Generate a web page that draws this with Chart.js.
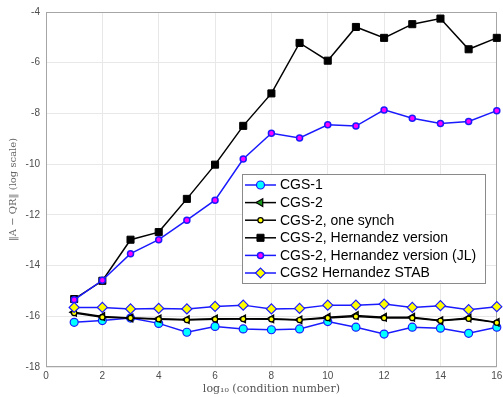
<!DOCTYPE html>
<html>
<head>
<meta charset="utf-8">
<script src="https://cdn.jsdelivr.net/npm/chart.js@4.4.1/dist/chart.umd.min.js"></script>
<style>
  html, body { margin: 0; padding: 0; background: #ffffff; }
  #wrap { width: 503px; height: 397px; position: relative; }
</style>
</head>
<body>
<div id="wrap"><canvas id="c" width="503" height="397"></canvas></div>
<script>
// ---- data ----
const xValues = [1, 2, 3, 4, 5, 6, 7, 8, 9, 10, 11, 12, 13, 14, 15, 16];
const cgs1 = [-16.24, -16.17, -16.07, -16.28, -16.63, -16.40, -16.50, -16.53, -16.50, -16.21, -16.43, -16.70, -16.43, -16.47, -16.67, -16.43];
const cgs2 = [-15.84, -16.01, -16.07, -16.10, -16.13, -16.10, -16.10, -16.10, -16.14, -16.04, -15.97, -16.04, -16.04, -16.17, -16.07, -16.24];
const cgs2OneSynch = [-15.87, -16.04, -16.07, -16.12, -16.15, -16.12, -16.11, -16.12, -16.15, -16.07, -16.01, -16.07, -16.07, -16.18, -16.10, -16.25];
const cgs2Hernandez = [-15.32, -14.60, -12.98, -12.68, -11.37, -10.02, -8.49, -7.21, -5.22, -5.92, -4.59, -5.02, -4.48, -4.26, -5.47, -5.02];
const cgs2HernandezJL = [-15.35, -14.58, -13.53, -12.98, -12.21, -11.42, -9.80, -8.78, -8.97, -8.45, -8.50, -7.86, -8.19, -8.40, -8.32, -7.89];
const cgs2HernandezStab = [-15.65, -15.65, -15.71, -15.69, -15.71, -15.61, -15.56, -15.71, -15.69, -15.56, -15.56, -15.52, -15.65, -15.58, -15.74, -15.62];
const seriesLabels = ["CGS-1", "CGS-2", "CGS-2, one synch", "CGS-2, Hernandez version", "CGS-2, Hernandez version (JL)", "CGS2 Hernandez STAB"];
const xTickValues = [0, 2, 4, 6, 8, 10, 12, 14, 16];
const yTickValues = [-18, -16, -14, -12, -10, -8, -6, -4];
const xTitle = "log\u2081\u2080 (condition number)";
const yTitle = "\u2016A \u2212 QR\u2016 (log scale)";

const BLUE = '#1a1aff';
const styles = [
  { line: BLUE, fill: '#00ffff', border: BLUE, pointStyle: 'circle', radius: 4, rotation: 0, bw: 1.2 },
  { line: '#000000', fill: '#1a9a1a', border: '#000000', pointStyle: 'triangle', radius: 4.5, rotation: -90, bw: 1.2 },
  { line: '#000000', fill: '#ffff00', border: '#000000', pointStyle: 'circle', radius: 2.6, rotation: 0, bw: 1.2 },
  { line: '#000000', fill: '#000000', border: '#000000', pointStyle: 'rect', radius: 5, rotation: 0, bw: 1 },
  { line: BLUE, fill: '#ff00ff', border: BLUE, pointStyle: 'circle', radius: 3, rotation: 0, bw: 1.5 },
  { line: BLUE, fill: '#ffff00', border: BLUE, pointStyle: 'rectRot', radius: 5, rotation: 0, bw: 1.2 }
];
const seriesData = [cgs1, cgs2, cgs2OneSynch, cgs2Hernandez, cgs2HernandezJL, cgs2HernandezStab];

const datasets = seriesData.map((vals, i) => ({
  label: seriesLabels[i],
  data: xValues.map((x, j) => ({ x: x, y: vals[j] })),
  borderColor: styles[i].line,
  backgroundColor: styles[i].fill,
  pointBackgroundColor: styles[i].fill,
  pointBorderColor: styles[i].border,
  pointBorderWidth: styles[i].bw,
  pointStyle: styles[i].pointStyle,
  pointRadius: styles[i].radius,
  pointRotation: styles[i].rotation,
  pointHoverRadius: styles[i].radius,
  borderWidth: 1.5,
  tension: 0,
  fill: false,
  clip: false,
  order: seriesData.length - i
}));

const framePlugin = {
  id: 'frame',
  beforeDatasetsDraw(chart) {
    const a = chart.chartArea, ctx = chart.ctx;
    ctx.save();
    ctx.strokeStyle = '#a6a6a6';
    ctx.lineWidth = 1;
    ctx.strokeRect(Math.round(a.left) + 0.5, Math.round(a.top) + 0.5, Math.round(a.right - a.left) - 1, Math.round(a.bottom - a.top) - 1);
    ctx.restore();
  }
};

const legendPlugin = {
  id: 'mlegend',
  afterDatasetsDraw(chart) {
    const ctx = chart.ctx;
    const x0 = 242.5, y0 = 174.5, w = 243, h = 109;
    ctx.save();
    ctx.fillStyle = '#ffffff';
    ctx.fillRect(x0, y0, w, h);
    ctx.strokeStyle = '#8a8a8a';
    ctx.lineWidth = 1;
    ctx.strokeRect(x0, y0, w, h);
    const rowH = 17.6;
    ctx.font = '14px "Liberation Sans", Arial, sans-serif';
    ctx.textBaseline = 'middle';
    ctx.textAlign = 'left';
    seriesLabels.forEach((lab, i) => {
      const s = styles[i];
      const y = 185 + i * rowH;
      ctx.strokeStyle = s.line;
      ctx.lineWidth = 1.5;
      ctx.beginPath();
      ctx.moveTo(245, y);
      ctx.lineTo(276, y);
      ctx.stroke();
      ctx.fillStyle = s.fill;
      ctx.strokeStyle = s.border;
      ctx.lineWidth = s.bw;
      Chart.helpers.drawPoint(ctx, { pointStyle: s.pointStyle, radius: s.radius, rotation: s.rotation, borderWidth: s.bw }, 260.5, y);
      ctx.fillStyle = '#000000';
      ctx.fillText(lab, 280, y + 0.5);
    });
    ctx.restore();
  }
};

const tickFont = { family: '"Liberation Sans", Arial, sans-serif', size: 10 };
const titleFont = { family: '"DejaVu Serif", "Liberation Serif", serif', size: 11 };

new Chart(document.getElementById('c'), {
  type: 'line',
  data: { datasets: datasets },
  plugins: [framePlugin, legendPlugin],
  options: {
    responsive: false,
    animation: false,
    devicePixelRatio: 1,
    layout: { padding: { top: 10, right: 0, left: 0, bottom: 0 } },
    plugins: { legend: { display: false }, tooltip: { enabled: false } },
    scales: {
      x: {
        type: 'linear',
        min: 0, max: 16,
        afterBuildTicks: (s) => { s.ticks = xTickValues.map(v => ({ value: v })); },
        ticks: { color: '#4d4d4d', font: tickFont, padding: 3, maxRotation: 0 },
        grid: { color: '#e8e8e8', drawTicks: false },
        border: { display: false },
        title: { display: true, text: xTitle, color: '#555555', font: titleFont, padding: { top: 0, bottom: 1 } },
        afterFit: (s) => { s.height = 30; s.paddingRight = 5; s.paddingLeft = 0; }
      },
      y: {
        type: 'linear',
        min: -18, max: -4,
        afterBuildTicks: (s) => { s.ticks = yTickValues.map(v => ({ value: v })); },
        ticks: { color: '#4d4d4d', font: tickFont, padding: 6 },
        grid: { color: '#e8e8e8', drawTicks: false },
        border: { display: false },
        title: { display: true, text: yTitle, color: '#666666', font: { family: '"DejaVu Serif", "Liberation Serif", serif', size: 10 }, padding: { top: 7, bottom: 0 } },
        afterFit: (s) => { s.width = 46; }
      }
    }
  }
});
</script>
</body>
</html>
